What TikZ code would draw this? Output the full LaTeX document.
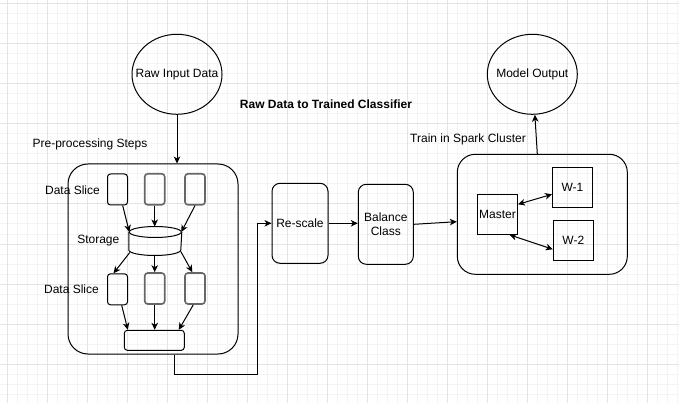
\documentclass[tikz,border=0pt]{standalone}
\usepackage{fontspec}
\setmainfont{Liberation Sans}
\usetikzlibrary{shapes}
\usetikzlibrary{arrows.meta}
\definecolor{gridmajor}{RGB}{228,228,228}
\definecolor{gridminor}{RGB}{244,244,244}
\definecolor{slicegray}{RGB}{102,102,102}
\tikzset{
	treenode/.style = {
		align=center,
		inner sep=0pt,
		text centered,
		font=\fontsize{12}{14}\selectfont
	},
	node_txt/.style = {
		treenode
	},
	node_title/.style = {
		treenode,
		font=\fontsize{12}{14}\selectfont\bfseries
	},
	node_ell/.style = {
		treenode,
		ellipse,
		draw=black,
		line width=1pt,
		minimum width=90pt,
		minimum height=80pt
	},
	node_group/.style = {
		treenode,
		rectangle,
		draw=black,
		line width=1pt,
		rounded corners=20pt
	},
	node_step/.style = {
		treenode,
		rectangle,
		draw=black,
		line width=1pt,
		rounded corners=8pt,
		minimum height=80pt
	},
	node_sq/.style = {
		treenode,
		rectangle,
		draw=black,
		line width=1pt,
		minimum width=40pt,
		minimum height=40pt
	},
	node_slice/.style = {
		treenode,
		rectangle,
		draw=black,
		line width=1pt,
		rounded corners=3pt,
		minimum width=20pt,
		minimum height=31pt
	},
	node_slice_g/.style = {
		node_slice,
		draw=slicegray,
		line width=1.6pt
	},
	node_sink/.style = {
		treenode,
		rectangle,
		draw=black,
		line width=1pt,
		rounded corners=3pt,
		minimum width=60pt,
		minimum height=20pt
	},
	node_cyl/.style = {
		treenode,
		rectangle,
		minimum width=52pt,
		minimum height=28pt
	},
	grid_minor/.style = {
		draw=gridminor,
		line width=1pt
	},
	grid_major/.style = {
		draw=gridmajor,
		line width=1pt
	},
}

\begin{document}
\begin{tikzpicture}[x=1pt,y=1pt,>={Stealth[length=7pt,width=6.5pt,inset=2pt]},line width=1pt]
\useasboundingbox (0,0) rectangle (679,-403);
\foreach \x in {7,17,...,677} \draw[grid_minor] (\x,0) -- (\x,-403);
\foreach \y in {4,14,...,394} \draw[grid_minor] (0,-\y) -- (679,-\y);
\foreach \x in {7,47,...,647} \draw[grid_major] (\x,0) -- (\x,-403);
\foreach \y in {4,44,...,364} \draw[grid_major] (0,-\y) -- (679,-\y);

\node [node_ell, label={[node_txt]center:Raw Input Data}] (raw) at (177,-74.3) {};
\node [node_ell, label={[node_txt]center:Model Output}] (model) at (532.3,-74.3) {};
\node [node_title] (title) at (326,-104.3) {Raw Data to Trained Classifier};
\node [node_txt] (prelbl) at (90,-144) {Pre-processing Steps};
\node [node_txt] (sparklbl) at (468,-139.3) {Train in Spark Cluster};

\node [node_group, minimum width=170pt, minimum height=190pt] (pre) at (153,-259) {};
\node [node_slice] (s1) at (117.5,-189.5) {};
\node [node_slice_g] (s2) at (154.7,-189.3) {};
\node [node_slice_g] (s3) at (195,-189.3) {};
\node [node_txt] (slbl1) at (72.5,-190.7) {Data Slice};
\node [node_cyl] (stor) at (155.3,-241) {};
\node [node_txt] (storlbl) at (98.3,-240.7) {Storage};
\node [node_slice] (b1) at (117.5,-289.3) {};
\node [node_slice_g] (b2) at (154.7,-288.5) {};
\node [node_slice_g] (b3) at (195,-288.5) {};
\node [node_txt] (slbl2) at (71.5,-289.7) {Data Slice};
\node [node_sink] (sink) at (154.3,-340.3) {};

\node [node_step, minimum width=56pt] (rescale) at (300,-223.3) {Re-scale};
\node [node_step, minimum width=55pt] (balance) at (385.8,-224.3) {Balance\\Class};
\node [node_group, minimum width=170pt, minimum height=120pt, rounded corners=18pt] (cluster) at (542.3,-214.3) {};
\node [node_sq] (master) at (497.5,-214.3) {Master};
\node [node_sq] (w1) at (572.5,-187.3) {W-1};
\node [node_sq] (w2) at (573.3,-240.3) {W-2};

\draw ([yshift=-5.5pt]stor.north west) -- ([yshift=5.5pt]stor.south west)
	arc[start angle=180, end angle=360, x radius=26, y radius=5.5]
	-- ([yshift=-5.5pt]stor.north east);
\draw ([yshift=-5.5pt]stor.north) ellipse [x radius=26, y radius=5.5];

\draw[->] (raw) -- (pre.north -| raw);
\draw[->] ([xshift=5.2pt]s1.south) -- ([shift={(0.5,-5.5)}]stor.north west);
\draw[->] (s2) -- (stor.north -| s2);
\draw[->] (s3.south) -- ([shift={(-0.5,-5.5)}]stor.north east);
\draw[->] ([shift={(1,3)}]stor.south west) -- ([xshift=-4pt]b1.north);
\draw[->] (stor.south -| b2) -- (b2);
\draw[->] ([shift={(-1,4)}]stor.south east) -- ([xshift=-2.7pt]b3.north);
\draw[->] ([xshift=4.2pt]b1.south) -- ([xshift=4pt]sink.north west);
\draw[->] (b2) -- (sink.north -| b2);
\draw[->] ([xshift=-1.7pt]b3.south) -- ([xshift=-6pt]sink.north east);

\draw[->] ([xshift=21.3pt]pre.south) -- ++(0,-20.3) -| ([xshift=-14.3pt]rescale.west) -- (rescale.west);
\draw[->] (rescale.east) -- (rescale.east -| balance.west);
\draw[->] (balance.east) -- ([yshift=-7.4pt]cluster.west);
\draw[<->] ([yshift=10pt]master.east) -- ([yshift=-7pt]w1.west);
\draw[<->] ([xshift=12pt]master.south) -- ([yshift=-9pt]w2.west);
\draw[->] ([xshift=-5pt]cluster.north) -- (model);
\end{tikzpicture}
\end{document}
